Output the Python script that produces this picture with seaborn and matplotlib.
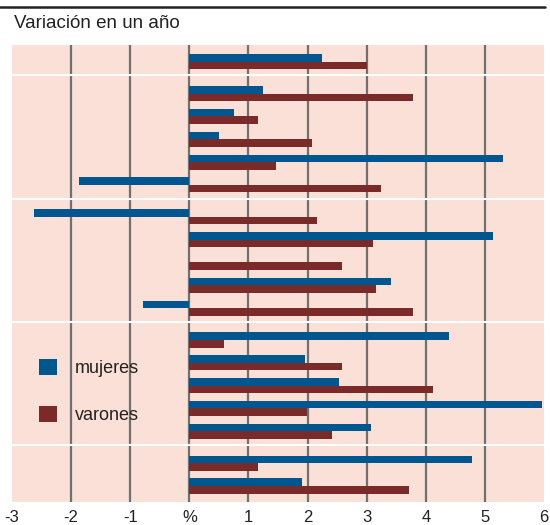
import numpy as np
import pandas as pd
import matplotlib
matplotlib.use("Agg")
import matplotlib.pyplot as plt
import seaborn as sns

# variación en un año (%), una fila por categoría, de arriba abajo
mujeres = [2.25, 1.25, 0.76, 0.50, 5.30, -1.87, -2.62, 5.13, np.nan, 3.42,
           -0.79, 4.40, 1.96, 2.54, 5.96, 3.08, 4.79, 1.91]
varones = [3.00, 3.79, 1.16, 2.08, 1.47, 3.25, 2.16, 3.11, 2.59, 3.16,
           3.79, 0.59, 2.59, 4.13, 1.99, 2.42, 1.16, 3.71]
grupo = [0, 1, 1, 1, 1, 1, 2, 2, 2, 2, 2, 3, 3, 3, 3, 3, 4, 4]

ticks = [-3, -2, -1, 0, 1, 2, 3, 4, 5, 6]
tick_labels = ["-3", "-2", "-1", "%", "1", "2", "3", "4", "5", "6"]

AZUL = "#00568f"
GRANATE = "#7b2a2a"
FONDO = "#fae0d6"

gap = 0.4
pos = [i + gap * g for i, g in enumerate(grupo)]

df = pd.DataFrame({
    "pos": pos * 2,
    "valor": mujeres + varones,
    "sexo": ["mujeres"] * len(mujeres) + ["varones"] * len(varones),
}).dropna()

sns.set_theme(style="white")
plt.rcParams["font.family"] = ["Liberation Sans", "DejaVu Sans"]

fig = plt.figure(figsize=(5.5, 5.25), dpi=100)
ax = fig.add_axes([12 / 550, 1 - 502 / 525, 532 / 550, 457 / 525])
ax.set_facecolor(FONDO)

for t in ticks[1:-1]:
    ax.axvline(t, color="#707070", lw=1.6, zorder=0.5)

sns.barplot(data=df, x="valor", y="pos", hue="sexo", orient="y",
            native_scale=True, width=0.66, hue_order=["mujeres", "varones"],
            palette=[AZUL, GRANATE], saturation=1, errorbar=None,
            linewidth=0, ax=ax)

# separadores entre grupos
for k in range(1, len(grupo)):
    if grupo[k] != grupo[k - 1]:
        ax.axhline((pos[k] + pos[k - 1]) / 2 - 0.1, color="white", lw=1.5, zorder=3)

ax.set_xlim(-3, 6)
ax.set_ylim(pos[-1] + 0.70, pos[0] - 0.73)
ax.set_xticks(ticks)
ax.set_xticklabels(tick_labels, fontsize=12, color="#222222")
ax.set_yticks([])
ax.tick_params(axis="x", length=0, pad=6)
ax.set_xlabel("")
ax.set_ylabel("")
for s in ax.spines.values():
    s.set_visible(False)

handles, labels = ax.get_legend_handles_labels()
ax.legend(handles, labels, loc="upper left", bbox_to_anchor=(0.051, 0.313),
          frameon=False, fontsize=13, handlelength=1.0, handleheight=0.95,
          handletextpad=1.0, labelspacing=1.62, borderpad=0, borderaxespad=0,
          labelcolor="#222222")

fig.add_artist(plt.Line2D([0, 545 / 550], [1 - 7 / 525] * 2, color="#222222", lw=1.8))
fig.text(14 / 550, 1 - 24 / 525, "Variación en un año", fontsize=13.5,
         va="center", ha="left", color="#222222")

fig.savefig("out.png", dpi=100)
